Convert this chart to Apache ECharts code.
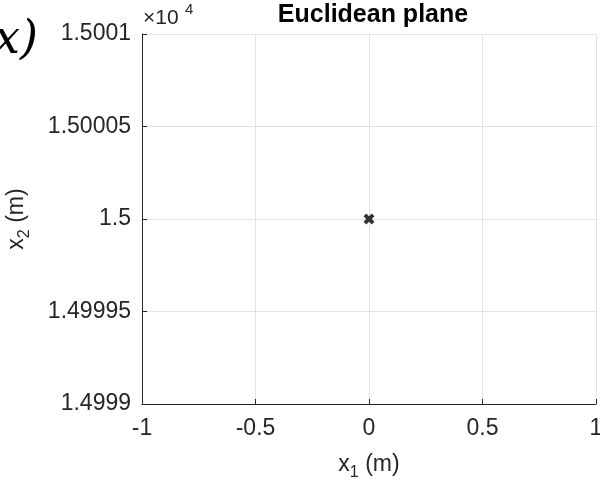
<!DOCTYPE html>
<html><head><meta charset="utf-8">
<script src="https://cdn.jsdelivr.net/npm/echarts@6/dist/echarts.min.js"></script>
<style>html,body{margin:0;padding:0;background:#fff}#c{width:600px;height:482px}</style>
</head><body><div id="c"></div>
<script>
var xTicks = [-1, -0.5, 0, 0.5, 1];
var yTickLabels = ['1.4999', '1.49995', '1.5', '1.50005', '1.5001'];
var yExponent = 4;
var pointX = [0];
var pointY = [15000];

var chart = echarts.init(document.getElementById('c'), null, {renderer: 'canvas'});
var txt = '#262626';
var font = 'Liberation Sans, Arial, sans-serif';
var data = pointX.map(function (x, i) { return [x, pointY[i]]; });
chart.setOption({
  animation: false,
  backgroundColor: '#fff',
  title: {
    text: 'Euclidean plane', left: 368, top: -2, textAlign: 'center',
    textStyle: {fontFamily: font, fontSize: 25, fontWeight: 'bold', color: '#000'}
  },
  grid: {left: 142, right: 4, top: 34, bottom: 78, containLabel: false, outerBoundsMode: 'none'},
  xAxis: {
    type: 'value', min: xTicks[0], max: xTicks[xTicks.length - 1], interval: 0.5,
    axisLine: {show: true, onZero: false, lineStyle: {color: txt, width: 1}},
    axisTick: {show: true, inside: true, length: 5, lineStyle: {color: txt}},
    splitLine: {show: true, lineStyle: {color: '#e3e3e3', width: 1}},
    axisLabel: {color: txt, fontSize: 23, fontFamily: font, margin: 13,
      hideOverlap: false, showMinLabel: true, showMaxLabel: true,
      formatter: function (v) { return String(v); }},
    name: '{a|x}{s|1}{a| (m)}', nameLocation: 'middle', nameGap: 45,
    nameTextStyle: {rich: {
      a: {fontSize: 23, fontFamily: font, color: txt},
      s: {fontSize: 16, fontFamily: font, color: txt, padding: [16, 0, 0, 0]}
    }}
  },
  yAxis: {
    type: 'value', min: 14999, max: 15001, interval: 0.5,
    axisLine: {show: true, onZero: false, lineStyle: {color: txt, width: 1}},
    axisTick: {show: true, inside: true, length: 5, lineStyle: {color: txt}},
    splitLine: {show: true, lineStyle: {color: '#e3e3e3', width: 1}},
    axisLabel: {color: txt, fontSize: 23, fontFamily: font, margin: 11,
      formatter: function (v) {
        var idx = Math.round((v - 14999) / 0.5);
        return yTickLabels[idx] !== undefined ? yTickLabels[idx] : '';
      }},
    name: '{a|x}{s|2}{a| (m)}', nameLocation: 'middle', nameGap: 109, nameRotate: 90,
    nameTextStyle: {rich: {
      a: {fontSize: 23, fontFamily: font, color: txt},
      s: {fontSize: 16, fontFamily: font, color: txt, padding: [16, 0, 0, 0]}
    }}
  },
  graphic: [
    {type: 'text', left: 143, top: 8, style: {text: '×10', fontSize: 21, fontFamily: font, fill: txt}},
    {type: 'text', left: 185, top: 2, style: {text: String(yExponent), fontSize: 15, fontFamily: font, fill: txt}},
    {type: 'text', left: -6, top: 18, style: {text: 'x)', fontSize: 46, fontStyle: 'italic', fontFamily: 'DejaVu Serif, Liberation Serif, serif', fill: '#000'}}
  ],
  series: [{
    type: 'scatter', data: data,
    symbol: 'path://M0,2.5 L2.5,0 L5,2.5 L7.5,0 L10,2.5 L7.5,5 L10,7.5 L7.5,10 L5,7.5 L2.5,10 L0,7.5 L2.5,5 Z',
    symbolSize: 11, itemStyle: {color: '#000'}
  }]
});
</script></body></html>
